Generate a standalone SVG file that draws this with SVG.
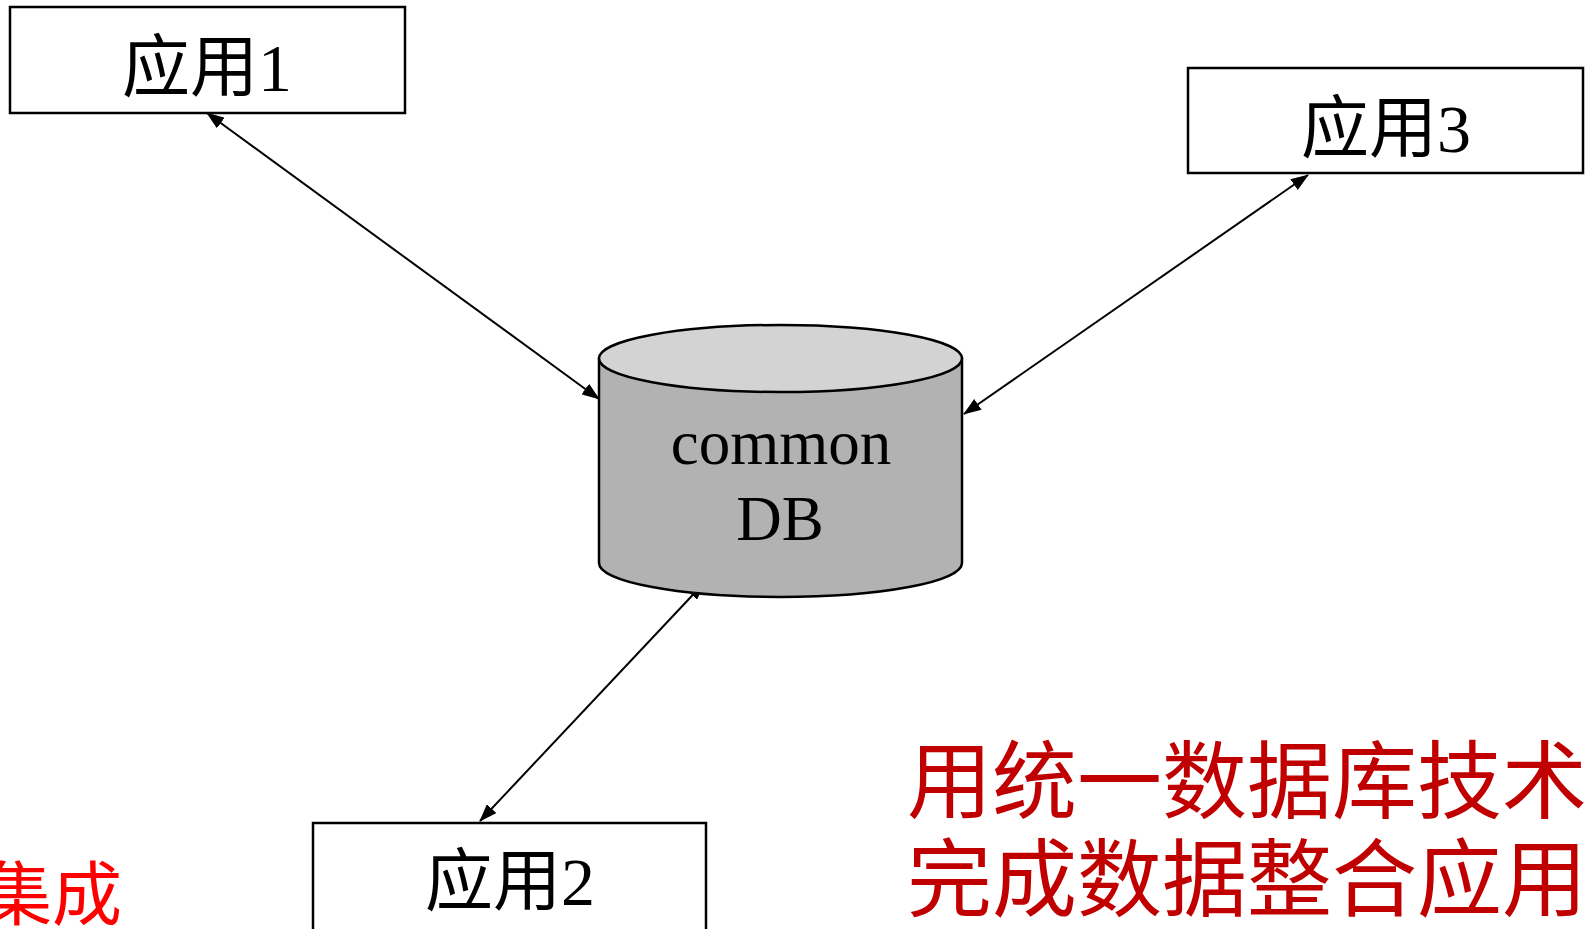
<svg xmlns="http://www.w3.org/2000/svg" width="1588" height="929" viewBox="0 0 1588 929">
  <style>
    .box { fill: #ffffff; stroke: #000000; stroke-width: 2.5; }
    .lbl { font-family: "Liberation Serif", "Noto Sans CJK SC", serif; font-size: 68px; fill: #000000; text-anchor: middle; }
    .db { font-family: "Liberation Serif", serif; font-size: 63px; fill: #000000; text-anchor: middle; }
    .link { stroke: #000000; stroke-width: 2; fill: none; marker-start: url(#head); marker-end: url(#head); }
    .note { font-family: "Liberation Serif", "Noto Sans CJK SC", serif; font-size: 85px; fill: #c00000; }
    .side { font-family: "Liberation Serif", "Noto Sans CJK SC", serif; font-size: 70px; fill: #ff0000; }
  </style>
  <defs>
    <marker id="head" viewBox="0 0 18 13" refX="17" refY="6.5" markerWidth="18" markerHeight="13" markerUnits="userSpaceOnUse" orient="auto-start-reverse">
      <path d="M0,0 L18,6.5 L0,13 Z" fill="#000000"/>
    </marker>
  </defs>

  <rect width="1588" height="929" fill="#ffffff"/>

  <g id="connectors">
    <line class="link" x1="207" y1="113" x2="599" y2="399"/>
    <line class="link" x1="1308" y1="175" x2="964" y2="414"/>
    <line class="link" x1="704" y1="583" x2="480" y2="821"/>
  </g>

  <g id="app1">
    <rect class="box" x="10" y="7" width="395" height="106"/>
    <text class="lbl" x="207" y="91">应用1</text>
  </g>

  <g id="app3">
    <rect class="box" x="1188" y="68" width="395" height="105"/>
    <text class="lbl" x="1386" y="152">应用3</text>
  </g>

  <g id="app2">
    <rect class="box" x="313" y="823" width="393" height="115"/>
    <text class="lbl" x="510" y="905">应用2</text>
  </g>

  <g id="commondb">
    <path d="M599,358.5 L599,563 A181.5,34 0 0 0 962,563 L962,358.5 Z" fill="#b2b2b2" stroke="#000000" stroke-width="2.5"/>
    <ellipse cx="780.5" cy="358.5" rx="181.5" ry="33.5" fill="#d3d3d3" stroke="#000000" stroke-width="2.5"/>
    <text class="db" x="781" y="464">common</text>
    <text class="db" x="780" y="540">DB</text>
  </g>

  <g id="notes">
    <text class="note" x="907" y="812">用统一数据库技术</text>
    <text class="note" x="907" y="910">完成数据整合应用</text>
    <text class="side" x="122" y="920" text-anchor="end">集成</text>
  </g>
</svg>
